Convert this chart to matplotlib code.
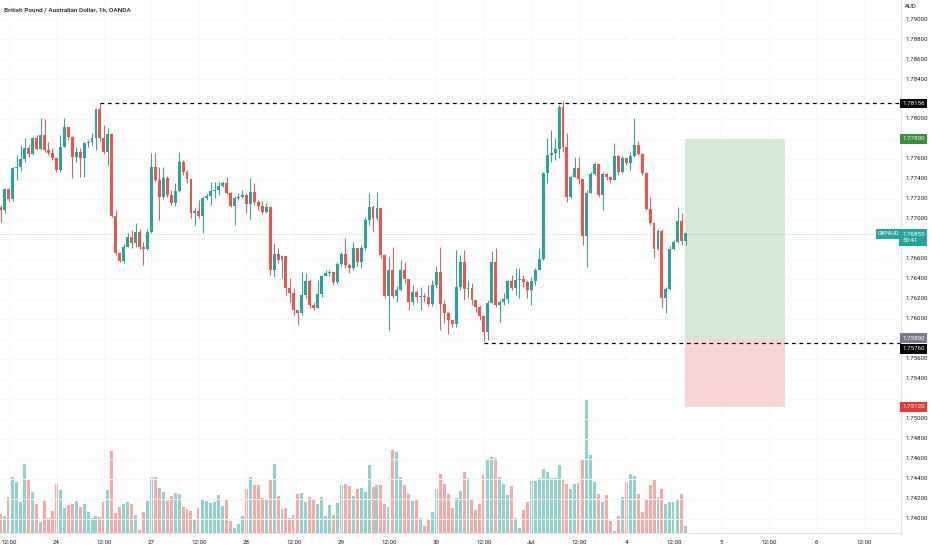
import numpy as np
import matplotlib
matplotlib.use("Agg")
import matplotlib.pyplot as plt
from matplotlib.patches import Rectangle

# GBPAUD 1h, OANDA
open_first = 1.7712
closes = [
    1.7709, 1.7730, 1.7720, 1.7751, 1.7752, 1.7760, 1.7771, 1.7765, 1.7781, 1.7770,
    1.7784, 1.7769, 1.7766, 1.7761, 1.7749, 1.7772, 1.7792, 1.7782, 1.7762, 1.7767,
    1.7761, 1.7776, 1.7777, 1.7781, 1.7810, 1.7781, 1.7767, 1.7785, 1.7703, 1.7666,
    1.7658, 1.7672, 1.7682, 1.7676, 1.7687, 1.7672, 1.7670, 1.7687, 1.7752, 1.7739,
    1.7722, 1.7741, 1.7724, 1.7716, 1.7728, 1.7757, 1.7747, 1.7740, 1.7706, 1.7708,
    1.7703, 1.7721, 1.7723, 1.7728, 1.7729, 1.7733, 1.7736, 1.7726, 1.7713, 1.7721,
    1.7722, 1.7724, 1.7715, 1.7727, 1.7717, 1.7713, 1.7707, 1.7712, 1.7649, 1.7665,
    1.7659, 1.7663, 1.7631, 1.7626, 1.7609, 1.7606, 1.7624, 1.7638, 1.7614, 1.7611,
    1.7625, 1.7643, 1.7646, 1.7647, 1.7637, 1.7655, 1.7665, 1.7654, 1.7651, 1.7671,
    1.7657, 1.7671, 1.7699, 1.7712, 1.7701, 1.7711, 1.7664, 1.7623, 1.7649, 1.7623,
    1.7629, 1.7649, 1.7640, 1.7617, 1.7627, 1.7622, 1.7623, 1.7622, 1.7615, 1.7634,
    1.7647, 1.7615, 1.7606, 1.7599, 1.7595, 1.7632, 1.7657, 1.7630, 1.7631, 1.7619,
    1.7612, 1.7603, 1.7587, 1.7616, 1.7657, 1.7614, 1.7617, 1.7620, 1.7638, 1.7631,
    1.7639, 1.7640, 1.7637, 1.7629, 1.7638, 1.7649, 1.7660, 1.7746, 1.7764, 1.7766,
    1.7770, 1.7812, 1.7772, 1.7722, 1.7742, 1.7751, 1.7740, 1.7683, 1.7726, 1.7745,
    1.7755, 1.7724, 1.7745, 1.7742, 1.7739, 1.7763, 1.7747, 1.7761, 1.7756, 1.7763,
    1.7774, 1.7765, 1.7746, 1.7710, 1.7696, 1.7670, 1.7688, 1.7621, 1.7630, 1.7670,
    1.7677, 1.7698, 1.7678, 1.76855,
]
highs = [
    1.7714, 1.7731, 1.7731, 1.7752, 1.7764, 1.7774, 1.7781, 1.7774, 1.7782, 1.7784,
    1.7801, 1.7800, 1.7777, 1.7771, 1.7762, 1.7784, 1.7801, 1.7792, 1.7783, 1.7772,
    1.7771, 1.7777, 1.7779, 1.7786, 1.7811, 1.78156, 1.7794, 1.7791, 1.7786, 1.7709,
    1.7667, 1.7675, 1.7686, 1.7689, 1.7696, 1.7690, 1.7677, 1.7690, 1.7766, 1.7766,
    1.7752, 1.7752, 1.7743, 1.7729, 1.7736, 1.7767, 1.7759, 1.7749, 1.7740, 1.7711,
    1.7719, 1.7723, 1.7726, 1.7737, 1.7737, 1.7737, 1.7738, 1.7742, 1.7727, 1.7723,
    1.7726, 1.7729, 1.7726, 1.7741, 1.7736, 1.7719, 1.7718, 1.7716, 1.7713, 1.7676,
    1.7671, 1.7664, 1.7661, 1.7641, 1.7631, 1.7609, 1.7647, 1.7646, 1.7640, 1.7617,
    1.7639, 1.7644, 1.7649, 1.7649, 1.7646, 1.7657, 1.7667, 1.7681, 1.7656, 1.7677,
    1.7671, 1.7674, 1.7702, 1.7726, 1.7714, 1.7727, 1.7712, 1.7665, 1.7662, 1.7672,
    1.7633, 1.7659, 1.7657, 1.7640, 1.7634, 1.7629, 1.7632, 1.7626, 1.7634, 1.7639,
    1.7653, 1.7672, 1.7619, 1.7607, 1.7599, 1.7669, 1.7664, 1.7669, 1.7639, 1.7636,
    1.7619, 1.7614, 1.7604, 1.7619, 1.7668, 1.7671, 1.7619, 1.7626, 1.7639, 1.7644,
    1.7651, 1.7651, 1.7644, 1.7639, 1.7642, 1.7651, 1.7671, 1.7747, 1.7781, 1.7789,
    1.7781, 1.7814, 1.7818, 1.7786, 1.7744, 1.7762, 1.7762, 1.7740, 1.7729, 1.7747,
    1.7757, 1.7755, 1.7747, 1.7746, 1.7743, 1.7776, 1.7764, 1.7763, 1.7761, 1.7767,
    1.7801, 1.7778, 1.7766, 1.7747, 1.7722, 1.7697, 1.7690, 1.7690, 1.7632, 1.7673,
    1.7679, 1.7712, 1.7706, 1.7686,
]
lows = [
    1.7697, 1.7706, 1.7717, 1.7718, 1.7739, 1.7748, 1.7757, 1.7762, 1.7764, 1.7769,
    1.7769, 1.7767, 1.7764, 1.7759, 1.7747, 1.7747, 1.7772, 1.7779, 1.7741, 1.7757,
    1.7742, 1.7742, 1.7772, 1.7774, 1.7769, 1.7778, 1.7765, 1.7754, 1.7702, 1.7664,
    1.7657, 1.7656, 1.7672, 1.7671, 1.7672, 1.7670, 1.7654, 1.7669, 1.7686, 1.7737,
    1.7699, 1.7720, 1.7722, 1.7714, 1.7713, 1.7727, 1.7744, 1.7736, 1.7701, 1.7694,
    1.7701, 1.7686, 1.7719, 1.7714, 1.7721, 1.7724, 1.7732, 1.7725, 1.7712, 1.7694,
    1.7719, 1.7721, 1.7706, 1.7700, 1.7714, 1.7709, 1.7705, 1.7706, 1.7644, 1.7642,
    1.7656, 1.7641, 1.7624, 1.7617, 1.7604, 1.7594, 1.7604, 1.7621, 1.7611, 1.7609,
    1.7612, 1.7622, 1.7643, 1.7643, 1.7634, 1.7635, 1.7653, 1.7651, 1.7646, 1.7649,
    1.7653, 1.7651, 1.7669, 1.7694, 1.7687, 1.7699, 1.7661, 1.7621, 1.7589, 1.7621,
    1.7617, 1.7628, 1.7636, 1.7609, 1.7614, 1.7617, 1.7609, 1.7617, 1.7613, 1.7613,
    1.7631, 1.7589, 1.7596, 1.7585, 1.7592, 1.7592, 1.7629, 1.7619, 1.7621, 1.7614,
    1.7607, 1.7599, 1.7578, 1.7579, 1.7616, 1.7612, 1.7597, 1.7614, 1.7616, 1.7629,
    1.7624, 1.7621, 1.7632, 1.7621, 1.7614, 1.7634, 1.7649, 1.7659, 1.7736, 1.7757,
    1.7759, 1.7761, 1.7767, 1.7717, 1.7721, 1.7742, 1.7735, 1.7674, 1.7652, 1.7726,
    1.7744, 1.7722, 1.7709, 1.7739, 1.7736, 1.7739, 1.7744, 1.7746, 1.7754, 1.7749,
    1.7762, 1.7764, 1.7744, 1.7709, 1.7694, 1.7661, 1.7669, 1.7611, 1.7606, 1.7629,
    1.7669, 1.7676, 1.7674, 1.7674,
]
volume = [
    19, 17, 36, 56, 51, 31, 69, 53, 41, 29, 11, 32, 15, 22, 49, 43, 25, 28, 29, 32,
    26, 29, 21, 15, 17, 16, 31, 43, 82, 20, 26, 29, 31, 29, 18, 3, 21, 32, 56, 56,
    45, 41, 32, 37, 40, 39, 26, 24, 22, 14, 25, 34, 32, 30, 31, 38, 27, 33,
    12, 5, 9, 17, 44, 56, 48, 48, 35, 33, 53, 69, 37, 24, 25, 15, 18, 39, 40, 31,
    36, 34, 29, 36, 17, 28, 18, 30, 48, 49, 47, 37, 44, 45, 41, 68, 46, 48, 48, 29,
    26, 83, 81, 56, 48, 39, 32, 34, 15, 7, 13, 21, 44, 59, 49, 39, 25, 35,
    42, 61, 55, 34, 23, 29, 58, 74, 76, 75, 56, 49, 38, 47, 15, 5, 23, 31, 52, 52,
    55, 64, 61, 55, 55, 68, 53, 49, 44, 49, 50, 73, 133, 78, 51, 39, 31, 38, 12, 2,
    17, 36, 51, 59, 57, 39, 21, 33, 48, 53, 36, 44, 29, 31, 31, 34, 39, 7,
]
x_labels = ["12:00", "24", "12:00", "27", "12:00", "28", "12:00", "29", "12:00", "30",
            "12:00", "Jul", "12:00", "4", "12:00", "5", "12:00", "6", "12:00"]
price_ticks = ["1.74000", "1.74200", "1.74400", "1.74600", "1.74800", "1.75000",
               "1.75200", "1.75400", "1.75600", "1.75800", "1.76000", "1.76200",
               "1.76400", "1.76600", "1.76800", "1.77000", "1.77200", "1.77400",
               "1.77600", "1.77800", "1.78000", "1.78200", "1.78400", "1.78600",
               "1.78800", "1.79000"]
# graduations couvertes par les étiquettes colorées
hidden_ticks = ["1.75200", "1.75800", "1.76800", "1.77800", "1.78200"]

# niveaux tracés
resistance = 1.78156
support = 1.75760
entry, target, stop = 1.75800, 1.77800, 1.75120
last_price = 1.76855

assert len(closes) == len(highs) == len(lows) == len(volume)

GREEN = "#26a69a"
RED = "#ef5350"
TXT = "#131722"
W, H = 932, 550

c = np.array(closes)
o = np.array([open_first] + closes[:-1])
h = np.maximum(np.array(highs), np.maximum(o, c))
l = np.minimum(np.array(lows), np.minimum(o, c))
v = np.array(volume)
x = np.arange(len(c))
up = c >= o
cols = np.where(up, GREEN, RED)

fig = plt.figure(figsize=(W / 100, H / 100), dpi=100)
fig.patch.set_facecolor("white")
ax = fig.add_axes([0, 17 / H, 901 / W, 533 / H])
axv = ax.twinx()
ax.set_zorder(axv.get_zorder() + 1)
ax.patch.set_visible(False)

# volume
vcols = np.where(up, "#92d2cc", "#f7a9a7")
axv.bar(x, v, width=0.75, color=vcols, linewidth=0)
axv.set_ylim(0, 533)
axv.axis("off")

# grille (très discrète)
for j in range(len(x_labels)):
    ax.axvline(2 + 12 * j, color="#f6f7fa", lw=0.7, zorder=0)
for lab in price_ticks:
    ax.axhline(float(lab), color="#f6f7fa", lw=0.7, zorder=0)

# bougies
ax.vlines(x, l, h, colors=cols, lw=0.7, zorder=2)
body_low = np.minimum(o, c)
body_h = np.maximum(np.abs(c - o), 0.00007)
ax.bar(x, body_h, bottom=body_low, width=0.74, color=cols, linewidth=0, zorder=3)

# position longue
x0, x1 = 172.8, 198.1
ax.add_patch(Rectangle((x0, entry), x1 - x0, target - entry, facecolor="#d5ead6",
                       edgecolor="none", zorder=1))
ax.add_patch(Rectangle((x0, stop), x1 - x0, entry - stop, facecolor="#f7d5d5",
                       edgecolor="none", zorder=1))

# lignes horizontales
ax.hlines(resistance, 25, 240, colors="black", linestyles=(0, (3, 3)), lw=0.9, zorder=4)
ax.hlines(support, 122, 240, colors="black", linestyles=(0, (3, 3)), lw=0.9, zorder=4)
ax.axhline(last_price, color=GREEN, lw=0.6, alpha=0.35, ls=(0, (1, 1)), zorder=1)

ax.set_xlim(-0.25, 227.4)
ax.set_ylim(1.7386, 1.7919)
ax.set_xticks([])
ax.set_yticks([])
for s in ["top", "left"]:
    ax.spines[s].set_visible(False)
ax.spines["right"].set_color("#e0e3eb")
ax.spines["bottom"].set_color("#e0e3eb")
ax.spines["right"].set_linewidth(0.8)
ax.spines["bottom"].set_linewidth(0.8)

plt.rcParams["font.family"] = ["Roboto", "DejaVu Sans"]
fs = 4.4

# étiquettes axe des prix
ytr = ax.get_yaxis_transform()
for lab in price_ticks:
    if lab in hidden_ticks:
        continue
    ax.text(1.0045, float(lab), lab, transform=ytr, fontsize=fs, color=TXT,
            va="center", ha="left", clip_on=False, zorder=5)

def price_tag(y, txt, bg, fg="white"):
    ax.text(1.0012, y, txt, transform=ytr, fontsize=fs, color=fg, va="center",
            ha="left", clip_on=False, zorder=10,
            bbox=dict(boxstyle="square,pad=0.35", fc=bg, ec="none"))

price_tag(resistance, "1.78156", "#000000")
price_tag(target, "1.77800", "#388e3c")
price_tag(entry + 0.0001, "1.75800", "#787b86")
price_tag(support - 0.0006, "1.75760", "#000000")
price_tag(stop, "1.75120", "#e53935")
ax.text(1.0012, last_price - 0.0004, "1.76855\n50:41", transform=ytr, fontsize=fs,
        color="white", va="center", ha="left", clip_on=False, zorder=10,
        linespacing=1.5, bbox=dict(boxstyle="square,pad=0.45", fc=GREEN, ec="none"))
ax.text(0.9985, last_price, "GBPAUD", transform=ytr, fontsize=fs - 0.4, color="white",
        va="center", ha="right", clip_on=False, zorder=10,
        bbox=dict(boxstyle="square,pad=0.45", fc=GREEN, ec="none"))

# étiquettes axe du temps
for j, lab in enumerate(x_labels):
    ax.text(2 + 12 * j, -0.018, lab, transform=ax.get_xaxis_transform(), fontsize=fs,
            color=TXT, ha="center", va="center", clip_on=False)

fig.text(4 / W, 1 - 10 / H, "British Pound / Australian Dollar, 1h, OANDA",
         fontsize=4.6, color=TXT, ha="left", va="center", fontweight="medium")
fig.text(905 / W, 1 - 7 / H, "AUD", fontsize=fs, color=TXT, ha="left", va="center")

fig.savefig("out.png", dpi=100)
